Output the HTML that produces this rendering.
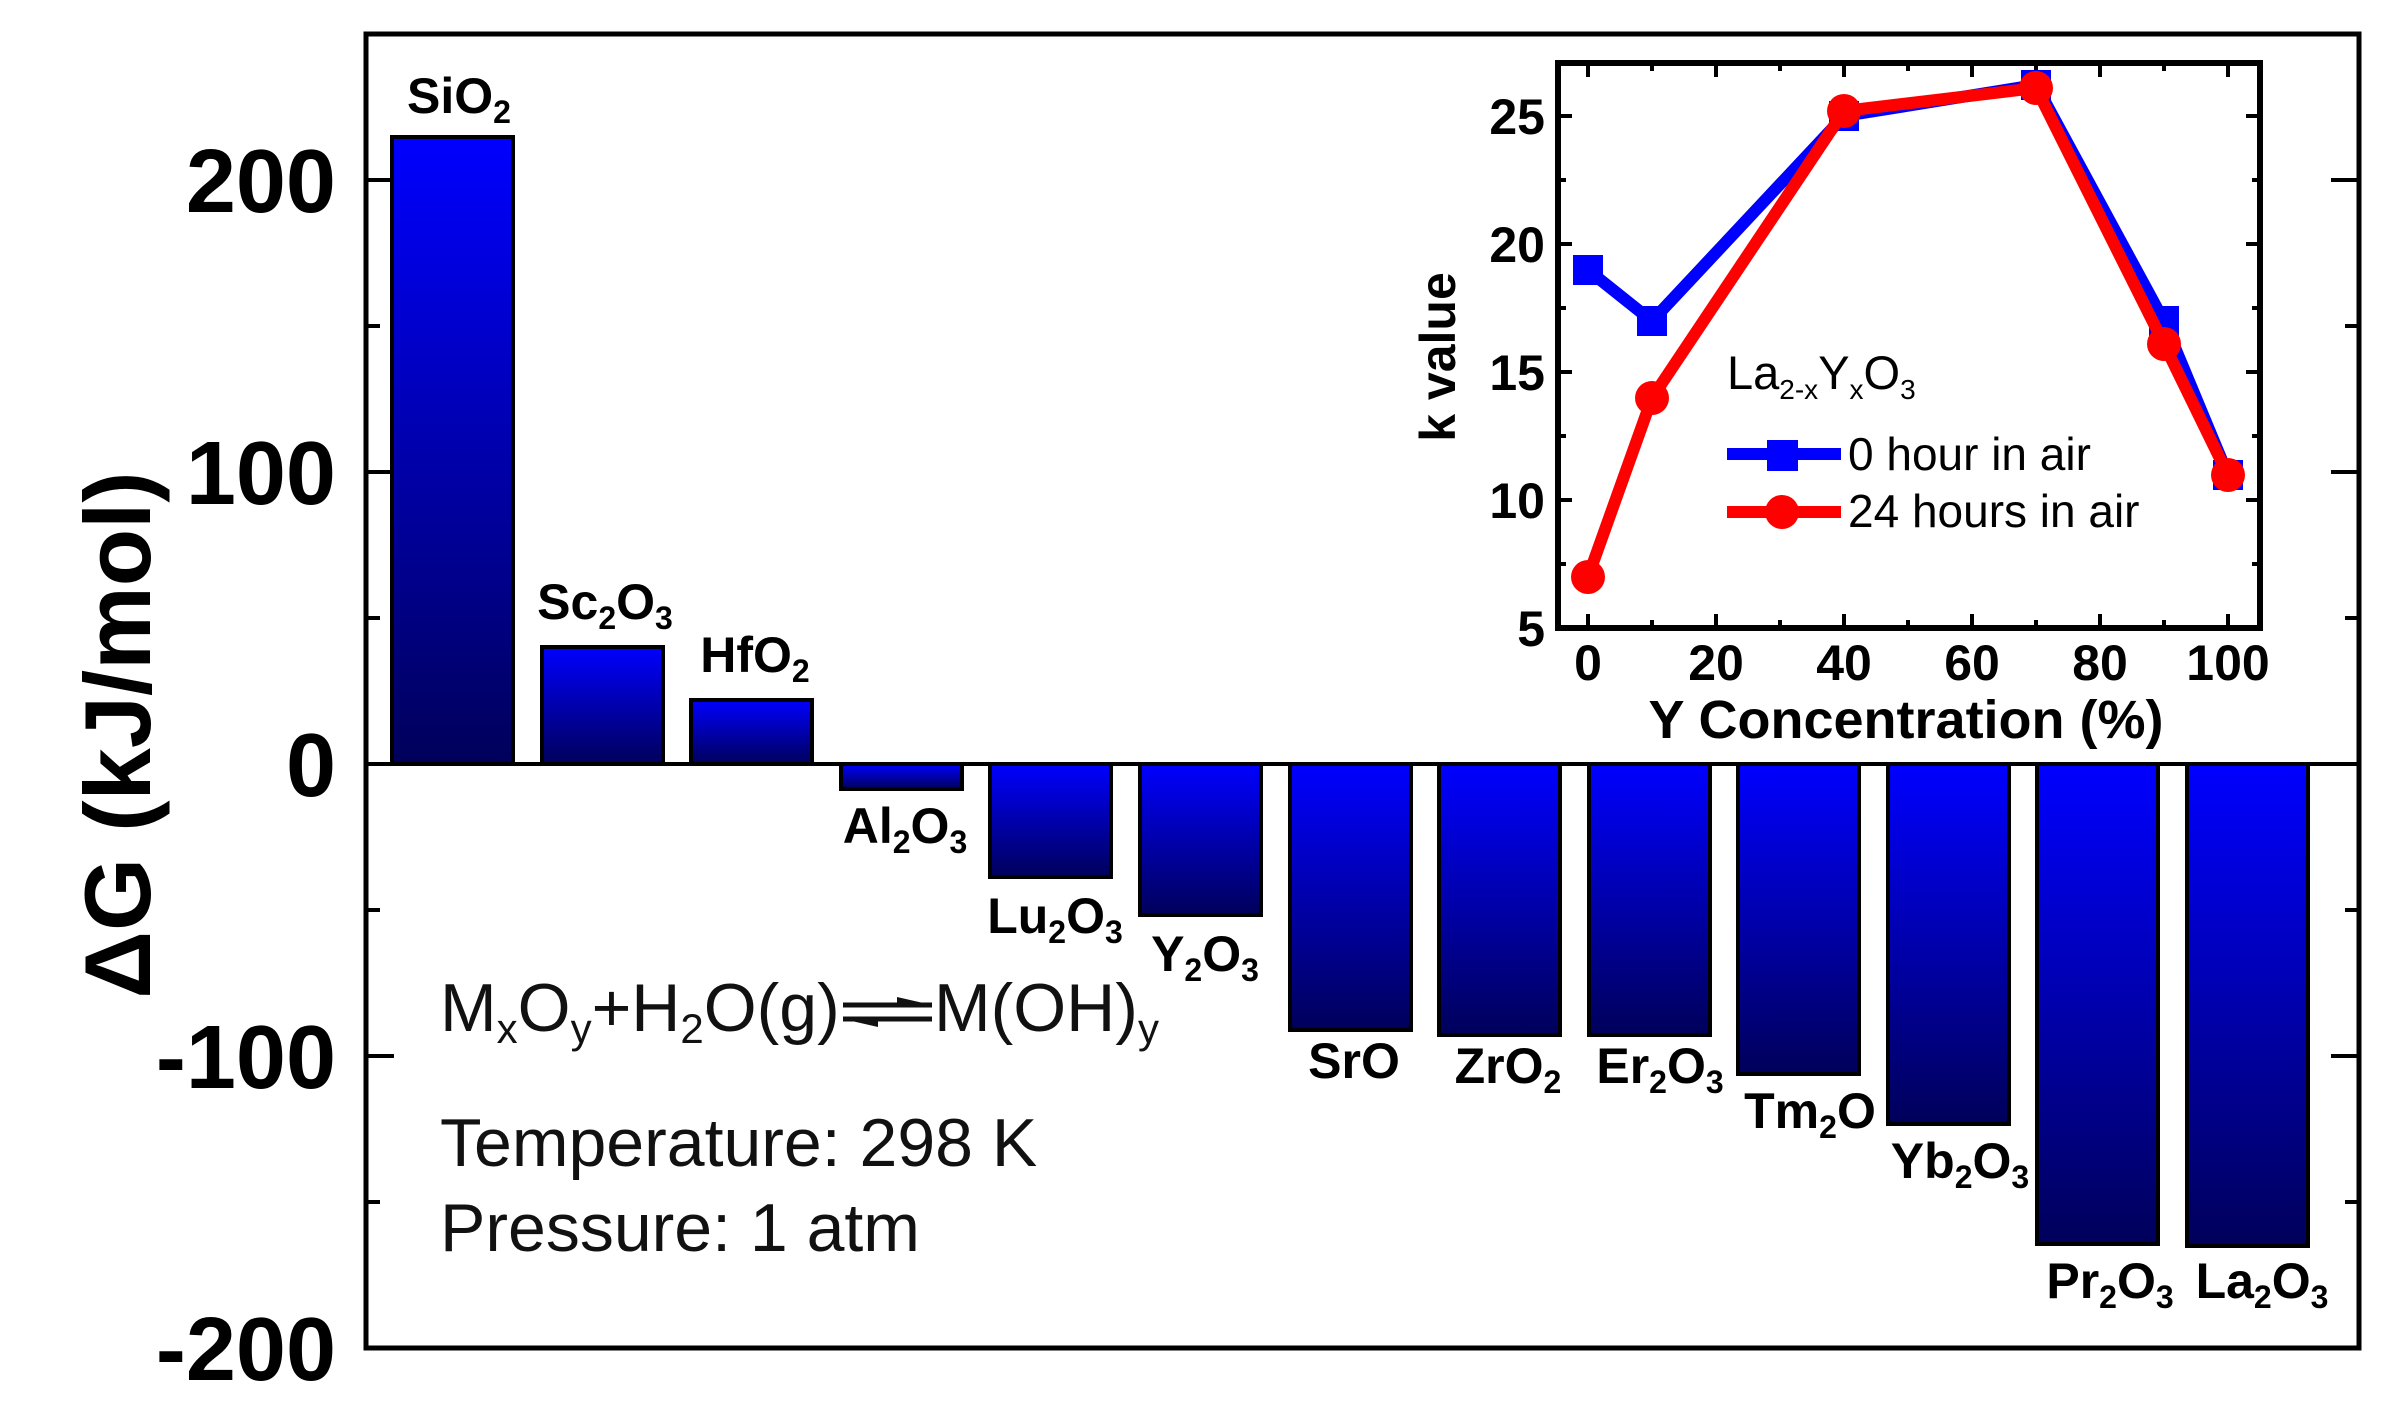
<!DOCTYPE html>
<html><head><meta charset="utf-8"><style>
html,body{margin:0;padding:0;background:#fff}
svg{display:block}
.n{font-family:"Liberation Sans Narrow","Liberation Sans",sans-serif}
.a{font-family:"Liberation Sans",sans-serif}
</style></head><body>
<svg width="2396" height="1406" viewBox="0 0 2396 1406" xmlns="http://www.w3.org/2000/svg">
<defs>
<linearGradient id="g" x1="0" y1="0" x2="0" y2="1">
<stop offset="0" stop-color="#0000ff"/><stop offset="1" stop-color="#00005a"/>
</linearGradient>
</defs>
<g stroke="#000" stroke-width="4" fill="url(#g)">
<rect x="392" y="137" width="121" height="627"/>
<rect x="542" y="647" width="121" height="117"/>
<rect x="691" y="700" width="121" height="64"/>
<rect x="841" y="764" width="121" height="25"/>
<rect x="990" y="764" width="121" height="113"/>
<rect x="1140" y="764" width="121" height="151"/>
<rect x="1290" y="764" width="121" height="266"/>
<rect x="1439" y="764" width="121" height="271"/>
<rect x="1589" y="764" width="121" height="271"/>
<rect x="1738" y="764" width="121" height="310"/>
<rect x="1888" y="764" width="121" height="360"/>
<rect x="2037" y="764" width="121" height="480"/>
<rect x="2187" y="764" width="121" height="482"/>
</g>
<rect x="366" y="34" width="1993" height="1314" fill="none" stroke="#000" stroke-width="5"/>
<line x1="366" y1="764" x2="2359" y2="764" stroke="#000" stroke-width="4"/>
<g stroke="#000" stroke-width="4">
<line x1="366" y1="180" x2="394" y2="180"/><line x1="366" y1="472" x2="394" y2="472"/><line x1="366" y1="1056" x2="394" y2="1056"/>
<line x1="366" y1="326" x2="380" y2="326"/><line x1="366" y1="618" x2="380" y2="618"/><line x1="366" y1="910" x2="380" y2="910"/><line x1="366" y1="1202" x2="380" y2="1202"/>
<line x1="2359" y1="180" x2="2331" y2="180"/><line x1="2359" y1="472" x2="2331" y2="472"/><line x1="2359" y1="1056" x2="2331" y2="1056"/>
<line x1="2359" y1="326" x2="2345" y2="326"/><line x1="2359" y1="618" x2="2345" y2="618"/><line x1="2359" y1="910" x2="2345" y2="910"/><line x1="2359" y1="1202" x2="2345" y2="1202"/>
</g>
<g class="a" font-weight="bold" font-size="90" text-anchor="end" fill="#000">
<text x="336" y="212">200</text><text x="336" y="504">100</text><text x="336" y="796">0</text>
<text x="336" y="1088">-100</text><text x="336" y="1380">-200</text>
</g>
<text class="a" font-weight="bold" font-size="94" text-anchor="middle" transform="translate(150,735) rotate(-90)">ΔG (kJ/mol)</text>
<g class="n" font-weight="bold" font-size="50" text-anchor="middle" fill="#000">
<text x="459" y="113">SiO<tspan font-size="32" dy="10">2</tspan></text>
<text x="605" y="619">Sc<tspan font-size="32" dy="10">2</tspan><tspan dy="-10">O</tspan><tspan font-size="32" dy="10">3</tspan></text>
<text x="755" y="672">HfO<tspan font-size="32" dy="10">2</tspan></text>
<text x="905" y="843">Al<tspan font-size="32" dy="10">2</tspan><tspan dy="-10">O</tspan><tspan font-size="32" dy="10">3</tspan></text>
<text x="1055" y="933">Lu<tspan font-size="32" dy="10">2</tspan><tspan dy="-10">O</tspan><tspan font-size="32" dy="10">3</tspan></text>
<text x="1205" y="971">Y<tspan font-size="32" dy="10">2</tspan><tspan dy="-10">O</tspan><tspan font-size="32" dy="10">3</tspan></text>
<text x="1354" y="1078">SrO</text>
<text x="1508" y="1083">ZrO<tspan font-size="32" dy="10">2</tspan></text>
<text x="1660" y="1083">Er<tspan font-size="32" dy="10">2</tspan><tspan dy="-10">O</tspan><tspan font-size="32" dy="10">3</tspan></text>
<text x="1810" y="1128">Tm<tspan font-size="32" dy="10">2</tspan><tspan dy="-10">O</tspan></text>
<text x="1960" y="1178">Yb<tspan font-size="32" dy="10">2</tspan><tspan dy="-10">O</tspan><tspan font-size="32" dy="10">3</tspan></text>
<text x="2110" y="1298">Pr<tspan font-size="32" dy="10">2</tspan><tspan dy="-10">O</tspan><tspan font-size="32" dy="10">3</tspan></text>
<text x="2262" y="1298">La<tspan font-size="32" dy="10">2</tspan><tspan dy="-10">O</tspan><tspan font-size="32" dy="10">3</tspan></text>
</g>
<g class="a" font-size="68" fill="#111">
<text x="440" y="1031">M<tspan font-size="42" dy="12">x</tspan><tspan dy="-12">O</tspan><tspan font-size="42" dy="12">y</tspan><tspan dy="-12">+H</tspan><tspan font-size="42" dy="12">2</tspan><tspan dy="-12">O(g)</tspan></text>
<text x="934" y="1031">M(OH)<tspan font-size="42" dy="12">y</tspan></text>
<text x="440" y="1166">Temperature: 298 K</text>
<text x="440" y="1251">Pressure: 1 atm</text>
</g>
<g stroke="#111" stroke-width="5">
<line x1="843" y1="1005" x2="932" y2="1005"/><line x1="843" y1="1019" x2="932" y2="1019"/>
</g>
<polygon points="932,1005 897,997 897,1005" fill="#111"/>
<polygon points="843,1019 878,1027 878,1019" fill="#111"/>
<rect x="1558" y="63" width="702" height="565" fill="#fff" stroke="#000" stroke-width="6"/>
<g stroke="#000" stroke-width="4">
<line x1="1588" y1="628" x2="1588" y2="614"/><line x1="1716" y1="628" x2="1716" y2="614"/><line x1="1844" y1="628" x2="1844" y2="614"/><line x1="1972" y1="628" x2="1972" y2="614"/><line x1="2100" y1="628" x2="2100" y2="614"/><line x1="2228" y1="628" x2="2228" y2="614"/>
<line x1="1652" y1="628" x2="1652" y2="620"/><line x1="1780" y1="628" x2="1780" y2="620"/><line x1="1908" y1="628" x2="1908" y2="620"/><line x1="2036" y1="628" x2="2036" y2="620"/><line x1="2164" y1="628" x2="2164" y2="620"/>
<line x1="1588" y1="63" x2="1588" y2="77"/><line x1="1716" y1="63" x2="1716" y2="77"/><line x1="1844" y1="63" x2="1844" y2="77"/><line x1="1972" y1="63" x2="1972" y2="77"/><line x1="2100" y1="63" x2="2100" y2="77"/><line x1="2228" y1="63" x2="2228" y2="77"/>
<line x1="1652" y1="63" x2="1652" y2="71"/><line x1="1780" y1="63" x2="1780" y2="71"/><line x1="1908" y1="63" x2="1908" y2="71"/><line x1="2036" y1="63" x2="2036" y2="71"/><line x1="2164" y1="63" x2="2164" y2="71"/>
<line x1="1558" y1="116" x2="1572" y2="116"/><line x1="1558" y1="244" x2="1572" y2="244"/><line x1="1558" y1="372" x2="1572" y2="372"/><line x1="1558" y1="500" x2="1572" y2="500"/>
<line x1="1558" y1="180" x2="1566" y2="180"/><line x1="1558" y1="308" x2="1566" y2="308"/><line x1="1558" y1="436" x2="1566" y2="436"/><line x1="1558" y1="564" x2="1566" y2="564"/>
<line x1="2260" y1="116" x2="2246" y2="116"/><line x1="2260" y1="244" x2="2246" y2="244"/><line x1="2260" y1="372" x2="2246" y2="372"/><line x1="2260" y1="500" x2="2246" y2="500"/>
<line x1="2260" y1="180" x2="2252" y2="180"/><line x1="2260" y1="308" x2="2252" y2="308"/><line x1="2260" y1="436" x2="2252" y2="436"/><line x1="2260" y1="564" x2="2252" y2="564"/>
</g>
<g class="n" font-weight="bold" font-size="50" fill="#000">
<g text-anchor="end">
<text x="1545" y="134">25</text><text x="1545" y="262">20</text><text x="1545" y="390">15</text><text x="1545" y="518">10</text><text x="1545" y="646">5</text>
</g>
<g text-anchor="middle">
<text x="1588" y="680">0</text><text x="1716" y="680">20</text><text x="1844" y="680">40</text><text x="1972" y="680">60</text><text x="2100" y="680">80</text><text x="2228" y="680">100</text>
<text x="1906" y="738" font-size="54">Y Concentration (%)</text>
</g>
</g>
<text class="a" font-weight="bold" font-size="50" text-anchor="middle" transform="translate(1455,357) rotate(-90)">k value</text>
<polyline points="1588,270 1652,321 1844,116 2036,85 2164,321 2228,475" fill="none" stroke="#0000ff" stroke-width="12" stroke-linejoin="round"/>
<g fill="#0000ff">
<rect x="1573" y="255" width="30" height="30"/><rect x="1637" y="306" width="30" height="30"/><rect x="1829" y="101" width="30" height="30"/><rect x="2021" y="70" width="30" height="30"/><rect x="2149" y="306" width="30" height="30"/><rect x="2213" y="460" width="30" height="30"/>
</g>
<polyline points="1588,577 1652,398 1844,111 2036,88 2164,344 2228,475" fill="none" stroke="#ff0000" stroke-width="12" stroke-linejoin="round"/>
<g fill="#ff0000">
<circle cx="1588" cy="577" r="17"/><circle cx="1652" cy="398" r="17"/><circle cx="1844" cy="111" r="17"/><circle cx="2036" cy="88" r="17"/><circle cx="2164" cy="344" r="17"/><circle cx="2228" cy="475" r="17"/>
</g>
<text class="a" font-size="47" x="1727" y="389" fill="#000">La<tspan font-size="28" dy="10">2-x</tspan><tspan dy="-10">Y</tspan><tspan font-size="28" dy="10">x</tspan><tspan dy="-10">O</tspan><tspan font-size="28" dy="10">3</tspan></text>
<line x1="1727" y1="454" x2="1841" y2="454" stroke="#0000ff" stroke-width="12"/>
<rect x="1767" y="440" width="31" height="31" fill="#0000ff"/>
<line x1="1727" y1="512" x2="1841" y2="512" stroke="#ff0000" stroke-width="12"/>
<circle cx="1782" cy="512" r="17" fill="#ff0000"/>
<g class="a" font-size="46" fill="#000">
<text x="1848" y="470">0 hour in air</text>
<text x="1848" y="527">24 hours in air</text>
</g>
</svg>
</body></html>
